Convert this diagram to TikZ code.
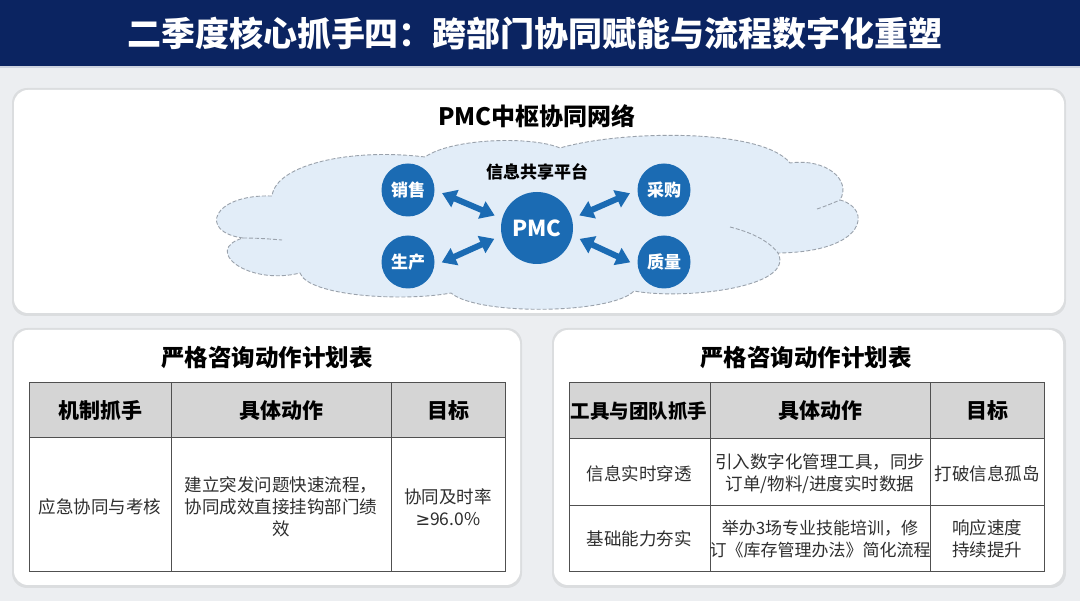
\documentclass[tikz,border=0pt]{standalone}
\usepackage{fontspec}
\setmainfont{Noto Sans CJK SC}
\newfontfamily\symfont{DejaVu Sans}
\usetikzlibrary{arrows.meta}

\begin{document}
\begin{tikzpicture}[x=1pt,y=-1pt,
    panel/.style={fill=white, rounded corners=14pt},
    panelshade/.style={fill=black, opacity=0.07, rounded corners=15pt},
    hub/.style={circle, fill=hubBlue, text=white, inner sep=0pt,
        minimum size=53pt, font=\bfseries\fontsize{17}{17}\selectfont},
    link/.style={draw=hubBlue, line width=6pt,
        {Triangle[width=18pt,length=14pt]}-{Triangle[width=18pt,length=14pt]},
        shorten <=8pt, shorten >=8pt},
    boxtitle/.style={font=\bfseries\fontsize{23.5}{24}\selectfont},
    headcell/.style={font=\bfseries\fontsize{21}{21}\selectfont},
    bodycell/.style={text=textGrey, align=center, font=\fontsize{17.5}{22}\selectfont},
    grid line/.style={draw=lineGrey, line width=1pt}
]
    % Define colours
    \definecolor{bgGrey}{HTML}{ECEEF1}
    \definecolor{bannerBlue}{HTML}{0B2461}
    \definecolor{hubBlue}{HTML}{1B6BB3}
    \definecolor{cloudBlue}{HTML}{E2EDF8}
    \definecolor{cloudEdge}{HTML}{9AA2AC}
    \definecolor{headGrey}{HTML}{D5D5D5}
    \definecolor{lineGrey}{HTML}{505050}
    \definecolor{textGrey}{HTML}{2E2E2E}

    \useasboundingbox (0,0) rectangle (1080,601);

    % Background and banner
    \fill[bgGrey] (0,0) rectangle (1080,601);
    \fill[bannerBlue] (0,0) rectangle (1080,66);
    \draw[white!80!bannerBlue, line width=1.5pt] (0,67) -- (1080,67);
    \node[text=white, font=\bfseries\fontsize{34}{34}\selectfont] (title) at (535,34)
        {二季度核心抓手四：跨部门协同赋能与流程数字化重塑};

    % Panels
    \fill[panelshade] (12,88) rectangle (1066,316);
    \fill[panelshade] (12,328) rectangle (522,588);
    \fill[panelshade] (552,328) rectangle (1066,588);
    \fill[panel] (14,90) rectangle (1064,313);
    \fill[panel] (14,330) rectangle (520,585);
    \fill[panel] (554,330) rectangle (1063,585);

    % Network panel
    \node[font=\bfseries\fontsize{24}{24}\selectfont] (netTitle) at (537,116) {PMC中枢协同网络};

    % Cloud
    \filldraw[fill=cloudBlue, draw=cloudEdge, line width=0.9pt, dash pattern=on 4pt off 2pt]
        (243,238) .. controls (198,232) and (212,194) .. (272,196)
        .. controls (276,164) and (352,148) .. (425,157)
        .. controls (452,138) and (532,136) .. (560,148)
        .. controls (622,130) and (762,128) .. (790,163)
        .. controls (826,158) and (852,180) .. (840,200)
        .. controls (872,208) and (868,252) .. (778,253)
        .. controls (796,288) and (682,300) .. (634,291)
        .. controls (612,314) and (478,316) .. (451,293)
        .. controls (402,302) and (308,296) .. (300,273)
        .. controls (248,286) and (202,250) .. (243,238) -- cycle;
    \draw[draw=cloudEdge, line width=0.9pt, dash pattern=on 4pt off 2pt]
        (243,238) .. controls (258,238) and (270,239) .. (282,240);
    \draw[draw=cloudEdge, line width=0.9pt, dash pattern=on 4pt off 2pt]
        (817,209) .. controls (826,206) and (833,203) .. (840,200);
    \draw[draw=cloudEdge, line width=0.9pt, dash pattern=on 4pt off 2pt]
        (730,227) .. controls (750,232) and (768,240) .. (778,253);

    \node[font=\bfseries\fontsize{17}{17}\selectfont] (platform) at (537,172) {信息共享平台};

    % Hub and departments
    \node[hub, minimum size=72pt, font=\bfseries\fontsize{22}{22}\selectfont] (pmc) at (537,228) {PMC};
    \node[hub] (sales) at (408,190) {销售};
    \node[hub] (prod) at (408,262) {生产};
    \node[hub] (buy) at (664,190) {采购};
    \node[hub] (qual) at (664,262) {质量};

    \draw[link] (sales.0) -- (pmc.165);
    \draw[link] (prod.-8) -- (pmc.192);
    \draw[link] (buy.180) -- (pmc.15);
    \draw[link] (qual.188) -- (pmc.-12);

    % Left plan table
    \node[boxtitle] (leftTitle) at (267,358) {严格咨询动作计划表};
    \fill[headGrey] (29,383) rectangle (505,438);
    \draw[grid line] (29,383) rectangle (505,572);
    \draw[grid line] (29,438) -- (505,438);
    \foreach \x in {171,391}
        \draw[grid line] (\x,383) -- (\x,572);

    \node[headcell] (lh1) at (100,411) {机制抓手};
    \node[headcell] (lh2) at (281,411) {具体动作};
    \node[headcell] (lh3) at (448,411) {目标};
    \node[bodycell] (l11) at (100,507) {应急协同与考核};
    \node[bodycell] (l12) at (281,507) {建立突发问题快速流程，\\协同成效直接挂钩部门绩\\效};
    \node[bodycell] (l13) at (448,507) {协同及时率\\{\symfont ≥}96.0\%};

    % Right plan table
    \node[boxtitle] (rightTitle) at (806,358) {严格咨询动作计划表};
    \fill[headGrey] (569,383) rectangle (1044,439);
    \draw[grid line] (569,383) rectangle (1044,572);
    \foreach \y in {439,506}
        \draw[grid line] (569,\y) -- (1044,\y);
    \foreach \x in {710,930}
        \draw[grid line] (\x,383) -- (\x,572);

    \node[headcell, font=\bfseries\fontsize{19.5}{20}\selectfont] (rh1) at (639,411) {工具与团队抓手};
    \node[headcell] (rh2) at (820,411) {具体动作};
    \node[headcell] (rh3) at (987,411) {目标};
    \node[bodycell] (r11) at (639,474) {信息实时穿透};
    \node[bodycell] (r12) at (820,474) {引入数字化管理工具，同步\\订单/物料/进度实时数据};
    \node[bodycell] (r13) at (987,474) {打破信息孤岛};
    \node[bodycell] (r21) at (639,539) {基础能力夯实};
    \node[bodycell, font=\fontsize{17}{22}\selectfont] (r22) at (820,539) {举办3场专业技能培训，修\\订《库存管理办法》简化流程};
    \node[bodycell] (r23) at (987,539) {响应速度\\持续提升};
\end{tikzpicture}
\end{document}
